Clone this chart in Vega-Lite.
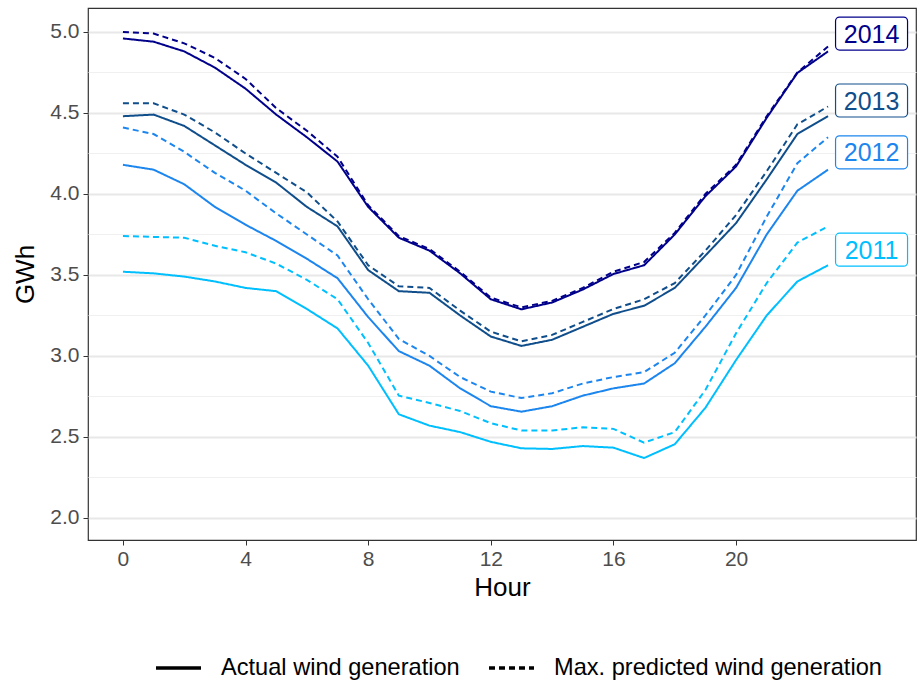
{
  "$schema": "https://vega.github.io/schema/vega-lite/v6.json",
  "width": 828,
  "height": 532,
  "autosize": {"type": "none"},
  "padding": {"left": 88, "top": 8, "right": 2, "bottom": 144},
  "background": "white",
  "config": {
    "font": "Liberation Sans",
    "view": {"stroke": "#333333", "strokeWidth": 1.2},
    "axis": {"domain": false, "labelFont": "Liberation Sans", "titleFont": "Liberation Sans"}
  },
  "datasets": {
    "wind": [
      {"hour":0,"year":"2011","Actual":3.52,"Predicted":3.74},
      {"hour":1,"year":"2011","Actual":3.51,"Predicted":3.735},
      {"hour":2,"year":"2011","Actual":3.49,"Predicted":3.73},
      {"hour":3,"year":"2011","Actual":3.46,"Predicted":3.68},
      {"hour":4,"year":"2011","Actual":3.42,"Predicted":3.64},
      {"hour":5,"year":"2011","Actual":3.40,"Predicted":3.57},
      {"hour":6,"year":"2011","Actual":3.29,"Predicted":3.47},
      {"hour":7,"year":"2011","Actual":3.17,"Predicted":3.35},
      {"hour":8,"year":"2011","Actual":2.94,"Predicted":3.08},
      {"hour":9,"year":"2011","Actual":2.64,"Predicted":2.755},
      {"hour":10,"year":"2011","Actual":2.57,"Predicted":2.71},
      {"hour":11,"year":"2011","Actual":2.53,"Predicted":2.66},
      {"hour":12,"year":"2011","Actual":2.47,"Predicted":2.585},
      {"hour":13,"year":"2011","Actual":2.43,"Predicted":2.54},
      {"hour":14,"year":"2011","Actual":2.426,"Predicted":2.54},
      {"hour":15,"year":"2011","Actual":2.444,"Predicted":2.56},
      {"hour":16,"year":"2011","Actual":2.434,"Predicted":2.55},
      {"hour":17,"year":"2011","Actual":2.37,"Predicted":2.465},
      {"hour":18,"year":"2011","Actual":2.455,"Predicted":2.53},
      {"hour":19,"year":"2011","Actual":2.68,"Predicted":2.79},
      {"hour":20,"year":"2011","Actual":2.975,"Predicted":3.14},
      {"hour":21,"year":"2011","Actual":3.25,"Predicted":3.45},
      {"hour":22,"year":"2011","Actual":3.46,"Predicted":3.70},
      {"hour":23,"year":"2011","Actual":3.56,"Predicted":3.80},
      {"hour":0,"year":"2012","Actual":4.18,"Predicted":4.41},
      {"hour":1,"year":"2012","Actual":4.15,"Predicted":4.37},
      {"hour":2,"year":"2012","Actual":4.06,"Predicted":4.26},
      {"hour":3,"year":"2012","Actual":3.92,"Predicted":4.13},
      {"hour":4,"year":"2012","Actual":3.81,"Predicted":4.02},
      {"hour":5,"year":"2012","Actual":3.71,"Predicted":3.88},
      {"hour":6,"year":"2012","Actual":3.60,"Predicted":3.75},
      {"hour":7,"year":"2012","Actual":3.48,"Predicted":3.62},
      {"hour":8,"year":"2012","Actual":3.24,"Predicted":3.35},
      {"hour":9,"year":"2012","Actual":3.03,"Predicted":3.105},
      {"hour":10,"year":"2012","Actual":2.94,"Predicted":3.00},
      {"hour":11,"year":"2012","Actual":2.80,"Predicted":2.87},
      {"hour":12,"year":"2012","Actual":2.69,"Predicted":2.78},
      {"hour":13,"year":"2012","Actual":2.656,"Predicted":2.74},
      {"hour":14,"year":"2012","Actual":2.69,"Predicted":2.77},
      {"hour":15,"year":"2012","Actual":2.755,"Predicted":2.83},
      {"hour":16,"year":"2012","Actual":2.80,"Predicted":2.87},
      {"hour":17,"year":"2012","Actual":2.83,"Predicted":2.90},
      {"hour":18,"year":"2012","Actual":2.955,"Predicted":3.02},
      {"hour":19,"year":"2012","Actual":3.18,"Predicted":3.25},
      {"hour":20,"year":"2012","Actual":3.42,"Predicted":3.50},
      {"hour":21,"year":"2012","Actual":3.75,"Predicted":3.86},
      {"hour":22,"year":"2012","Actual":4.02,"Predicted":4.19},
      {"hour":23,"year":"2012","Actual":4.15,"Predicted":4.35},
      {"hour":0,"year":"2013","Actual":4.48,"Predicted":4.56},
      {"hour":1,"year":"2013","Actual":4.49,"Predicted":4.56},
      {"hour":2,"year":"2013","Actual":4.42,"Predicted":4.49},
      {"hour":3,"year":"2013","Actual":4.30,"Predicted":4.38},
      {"hour":4,"year":"2013","Actual":4.18,"Predicted":4.25},
      {"hour":5,"year":"2013","Actual":4.07,"Predicted":4.13},
      {"hour":6,"year":"2013","Actual":3.92,"Predicted":4.01},
      {"hour":7,"year":"2013","Actual":3.80,"Predicted":3.83},
      {"hour":8,"year":"2013","Actual":3.53,"Predicted":3.56},
      {"hour":9,"year":"2013","Actual":3.40,"Predicted":3.43},
      {"hour":10,"year":"2013","Actual":3.39,"Predicted":3.42},
      {"hour":11,"year":"2013","Actual":3.25,"Predicted":3.28},
      {"hour":12,"year":"2013","Actual":3.12,"Predicted":3.15},
      {"hour":13,"year":"2013","Actual":3.062,"Predicted":3.09},
      {"hour":14,"year":"2013","Actual":3.10,"Predicted":3.13},
      {"hour":15,"year":"2013","Actual":3.18,"Predicted":3.21},
      {"hour":16,"year":"2013","Actual":3.26,"Predicted":3.29},
      {"hour":17,"year":"2013","Actual":3.31,"Predicted":3.35},
      {"hour":18,"year":"2013","Actual":3.42,"Predicted":3.45},
      {"hour":19,"year":"2013","Actual":3.62,"Predicted":3.65},
      {"hour":20,"year":"2013","Actual":3.82,"Predicted":3.87},
      {"hour":21,"year":"2013","Actual":4.09,"Predicted":4.14},
      {"hour":22,"year":"2013","Actual":4.37,"Predicted":4.43},
      {"hour":23,"year":"2013","Actual":4.48,"Predicted":4.54},
      {"hour":0,"year":"2014","Actual":4.96,"Predicted":5.00},
      {"hour":1,"year":"2014","Actual":4.94,"Predicted":4.99},
      {"hour":2,"year":"2014","Actual":4.88,"Predicted":4.93},
      {"hour":3,"year":"2014","Actual":4.78,"Predicted":4.84},
      {"hour":4,"year":"2014","Actual":4.65,"Predicted":4.71},
      {"hour":5,"year":"2014","Actual":4.49,"Predicted":4.53},
      {"hour":6,"year":"2014","Actual":4.35,"Predicted":4.39},
      {"hour":7,"year":"2014","Actual":4.20,"Predicted":4.23},
      {"hour":8,"year":"2014","Actual":3.92,"Predicted":3.93},
      {"hour":9,"year":"2014","Actual":3.73,"Predicted":3.74},
      {"hour":10,"year":"2014","Actual":3.65,"Predicted":3.66},
      {"hour":11,"year":"2014","Actual":3.51,"Predicted":3.52},
      {"hour":12,"year":"2014","Actual":3.35,"Predicted":3.36},
      {"hour":13,"year":"2014","Actual":3.288,"Predicted":3.30},
      {"hour":14,"year":"2014","Actual":3.33,"Predicted":3.34},
      {"hour":15,"year":"2014","Actual":3.41,"Predicted":3.42},
      {"hour":16,"year":"2014","Actual":3.506,"Predicted":3.52},
      {"hour":17,"year":"2014","Actual":3.56,"Predicted":3.58},
      {"hour":18,"year":"2014","Actual":3.75,"Predicted":3.76},
      {"hour":19,"year":"2014","Actual":3.986,"Predicted":4.00},
      {"hour":20,"year":"2014","Actual":4.17,"Predicted":4.18},
      {"hour":21,"year":"2014","Actual":4.47,"Predicted":4.48},
      {"hour":22,"year":"2014","Actual":4.747,"Predicted":4.75},
      {"hour":23,"year":"2014","Actual":4.88,"Predicted":4.91}
    ],
    "labels": [
      {"year":"2011","lx":24.42,"ly":3.656},
      {"year":"2012","lx":24.42,"ly":4.257},
      {"year":"2013","lx":24.42,"ly":4.577},
      {"year":"2014","lx":24.42,"ly":4.99}
    ]
  },
  "layer": [
    {
      "data": {"name": "wind"},
      "transform": [{"fold": ["Actual", "Predicted"], "as": ["type", "gwh"]}],
      "mark": {"type": "line", "strokeWidth": 2},
      "encoding": {
        "x": {
          "field": "hour", "type": "quantitative",
          "scale": {"domain": [-1.14, 25.87], "nice": false, "zero": false},
          "axis": {
            "values": [0, 4, 8, 12, 16, 20], "grid": false, "title": "Hour",
            "labelFontSize": 21, "labelColor": "#4d4d4d", "tickColor": "#333333", "tickSize": 5,
            "labelPadding": 3, "titleFontSize": 26, "titleFontWeight": "normal", "titleColor": "#000000", "titlePadding": 5
          }
        },
        "y": {
          "field": "gwh", "type": "quantitative",
          "scale": {"domain": [1.864, 5.148], "nice": false, "zero": false},
          "axis": {
            "values": [2, 2.25, 2.5, 2.75, 3, 3.25, 3.5, 3.75, 4, 4.25, 4.5, 4.75, 5],
            "labelExpr": "(datum.value*4) % 2 == 0 ? format(datum.value, '.1f') : ''",
            "grid": true,
            "gridColor": {"condition": {"test": "(datum.value*4) % 2 == 1", "value": "#f0f0f0"}, "value": "#e8e8e8"},
            "gridWidth": {"condition": {"test": "(datum.value*4) % 2 == 1", "value": 1}, "value": 2},
            "tickColor": {"condition": {"test": "(datum.value*4) % 2 == 1", "value": "transparent"}, "value": "#333333"},
            "tickSize": 5, "labelPadding": 4,
            "labelFontSize": 21, "labelColor": "#4d4d4d",
            "title": "GWh", "titleFontSize": 26, "titleFontWeight": "normal", "titleColor": "#000000", "titlePadding": 11
          }
        },
        "color": {
          "field": "year", "type": "nominal",
          "scale": {"domain": ["2011", "2012", "2013", "2014"], "range": ["#00BFFF", "#1C86EE", "#104E8B", "#00008B"]},
          "legend": null
        },
        "strokeDash": {
          "field": "type", "type": "nominal",
          "scale": {"domain": ["Actual", "Predicted"], "range": [[1, 0], [6, 4]]},
          "legend": {
            "title": null, "orient": "none", "direction": "horizontal",
            "legendX": 66, "legendY": 635, "padding": 0,
            "labelExpr": "datum.value == 'Actual' ? 'Actual wind generation' : 'Max. predicted wind generation'",
            "labelFontSize": 23.6, "labelColor": "#000000", "labelOffset": 18, "labelLimit": 0,
            "symbolType": "stroke", "symbolSize": 2025, "symbolStrokeWidth": 3.5, "symbolStrokeColor": "#000000",
            "columnPadding": 22,
            "encode": {"symbols": {"update": {"strokeDash": [{"test": "datum.value == 'Predicted'", "value": [8, 7]}, {"value": [1, 0]}]}}}
          }
        },
        "detail": {"field": "year"}
      }
    },
    {
      "data": {"name": "labels"},
      "mark": {
        "type": "point", "filled": false, "fill": "white", "fillOpacity": 1, "strokeWidth": 1.2, "opacity": 1, "size": 5184,
        "shape": "M-0.89,-0.458 L0.89,-0.458 A0.11,0.11 0 0 1 1,-0.348 L1,0.348 A0.11,0.11 0 0 1 0.89,0.458 L-0.89,0.458 A0.11,0.11 0 0 1 -1,0.348 L-1,-0.348 A0.11,0.11 0 0 1 -0.89,-0.458 Z"
      },
      "encoding": {
        "x": {"field": "lx", "type": "quantitative"},
        "y": {"field": "ly", "type": "quantitative"},
        "stroke": {
          "field": "year", "type": "nominal",
          "scale": {"domain": ["2011", "2012", "2013", "2014"], "range": ["#00BFFF", "#1C86EE", "#104E8B", "#00008B"]},
          "legend": null
        }
      }
    },
    {
      "data": {"name": "labels"},
      "mark": {"type": "text", "fontSize": 25, "align": "center", "baseline": "middle", "font": "Liberation Sans", "dy": 1},
      "encoding": {
        "x": {"field": "lx", "type": "quantitative"},
        "y": {"field": "ly", "type": "quantitative"},
        "text": {"field": "year"},
        "color": {"field": "year", "type": "nominal", "legend": null}
      }
    }
  ]
}
